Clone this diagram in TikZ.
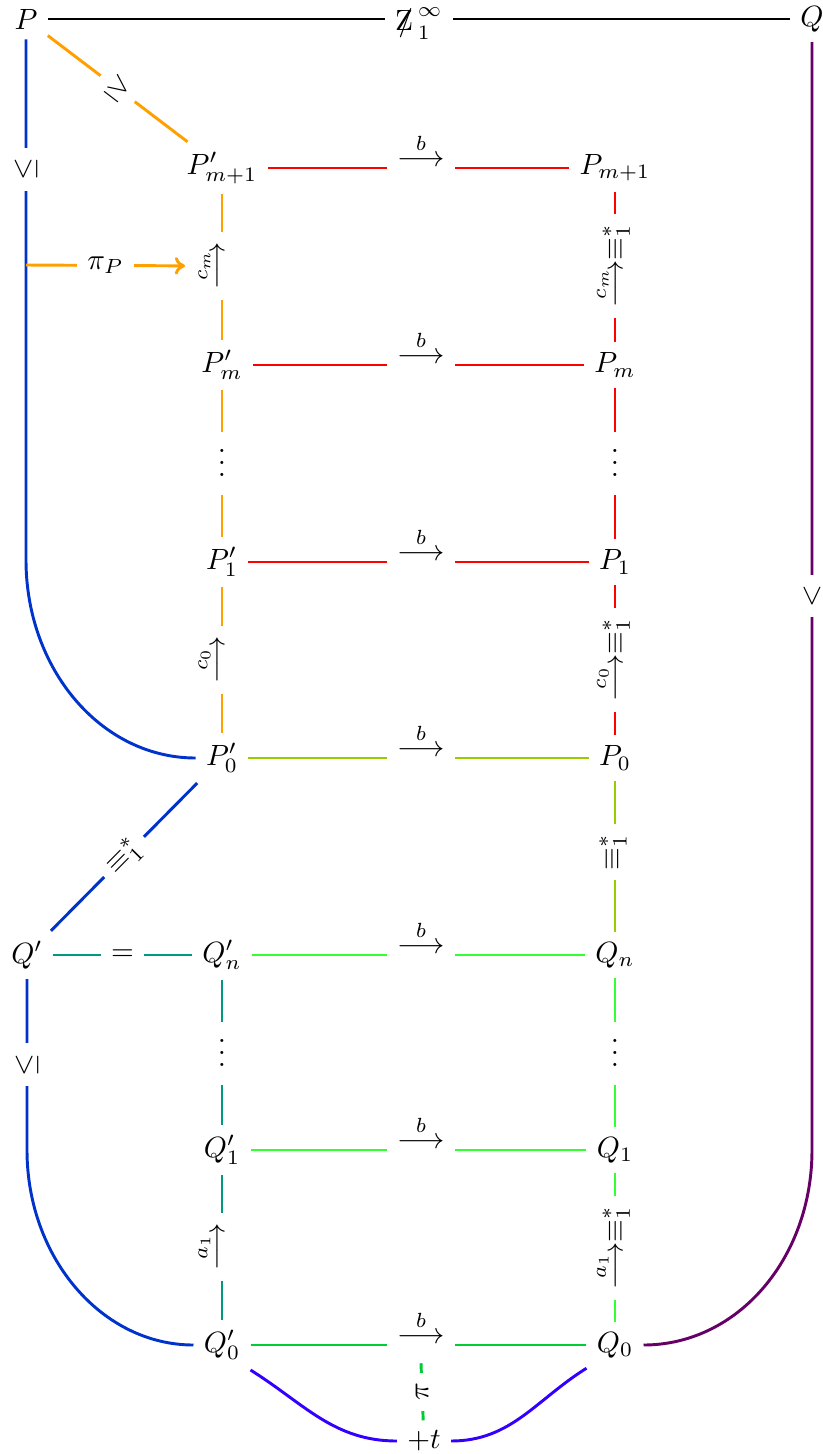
\documentclass[tikz,border=0pt]{standalone}
\usepackage{amsmath,amssymb}
\usetikzlibrary{arrows.meta}
\definecolor{cOrange}{RGB}{255,160,0}
\definecolor{cBlue}{RGB}{0,51,204}
\definecolor{cRed}{RGB}{255,0,0}
\definecolor{cYG}{RGB}{153,204,0}
\definecolor{cLime}{RGB}{51,255,51}
\definecolor{cGreen}{RGB}{0,204,51}
\definecolor{cTeal}{RGB}{0,153,128}
\definecolor{cPurple}{RGB}{102,0,102}
\definecolor{cViolet}{RGB}{51,0,255}
\newcommand{\notZ}{\mathrel{\rlap{$\mkern2mu/$}\mathrm{Z}\mkern3mu}}
\newcommand{\arr}[1]{\overset{#1}{\longrightarrow}}
\begin{document}
\begin{tikzpicture}[x=0.3413pt,y=-0.3413pt,
  ln/.style={line width=1pt},
  lbl/.style={fill=white,text=black,inner sep=3.4pt},
  vd/.style={text height=9.1pt,text depth=0pt,inner sep=6pt}]
\useasboundingbox (0,0) rectangle (822,1454);
% objects
\node (P) at (26,19) {$P$};
\node (Q) at (812,19) {$Q$};
\node (Pm1p) at (222,168) {$P'_{m+1}$};
\node (Pm1) at (615,168) {$P_{m+1}$};
\node (Pmp) at (222,365) {$P'_{m}$};
\node (Pm) at (615,365) {$P_{m}$};
\node[vd] (vdA) at (222,463) {$\vdots$};
\node[vd] (vdB) at (615,463) {$\vdots$};
\node (P1p) at (222,562) {$P'_{1}$};
\node (P1) at (615,562) {$P_{1}$};
\node (P0p) at (222,758) {$P'_{0}$};
\node (P0) at (615,758) {$P_{0}$};
\node (Qp) at (27,955) {$Q'$};
\node (Qnp) at (222,955) {$Q'_{n}$};
\node (Qn) at (615,955) {$Q_{n}$};
\node[vd] (vdC) at (222,1053) {$\vdots$};
\node[vd] (vdD) at (615,1053) {$\vdots$};
\node (Q1p) at (222,1150) {$Q'_{1}$};
\node (Q1) at (615,1150) {$Q_{1}$};
\node (Q0p) at (222,1345) {$Q'_{0}$};
\node (Q0) at (615,1345) {$Q_{0}$};
\node (T) at (424,1441) {$+t$};
\coordinate (pp) at (26,265);
% top and outer connectors
\draw[ln] (P) -- node[lbl,yshift=-1.5pt]{$\notZ^{\infty}_{1}$} (Q);
\draw[ln,cOrange] (P) -- node[lbl,sloped]{$\geq$} (Pm1p);
\draw[ln,cBlue] (P) -- node[lbl,pos=0.25,rotate=90]{$\leq$} (26,560) .. controls (26,669) and (101,758) .. (P0p.west);
\draw[ln,cBlue] (P0p) -- node[lbl,sloped]{$\equiv^{*}_{1}$} (Qp);
\draw[ln,cTeal] (Qp) -- node[lbl]{$=$} (Qnp);
\draw[ln,cBlue] (Qp) -- node[lbl,pos=0.5,rotate=90]{$\leq$} (27,1150) .. controls (27,1258) and (102,1345) .. (Q0p.west);
\draw[ln,cPurple] (Q) -- node[lbl,pos=0.5,rotate=90]{$<$} (812,1150) .. controls (812,1258) and (738,1345) .. (Q0.east);
% horizontal rows
\draw[ln,cRed] (Pm1p) -- (Pm1);
\draw[ln,cRed] (Pmp) -- (Pm);
\draw[ln,cRed] (P1p) -- (P1);
\draw[ln,cYG] (P0p) -- (P0);
\draw[ln,cLime] (Qnp) -- (Qn);
\draw[ln,cLime] (Q1p) -- (Q1);
\draw[ln,cGreen] (Q0p) -- (Q0);
% vertical columns
\draw[ln,cOrange] (Pm1p) -- (Pmp) -- (vdA) -- (P1p) -- (P0p);
\draw[ln,cRed] (Pm1) -- (Pm) -- (vdB) -- (P1) -- (P0);
\draw[ln,cYG] (P0) -- (Qn);
\draw[ln,cLime] (Qn) -- (vdD) -- (Q1) -- (Q0);
\draw[ln,cTeal] (Qnp) -- (vdC) -- (Q1p) -- (Q0p);
% labels on rows
\foreach \y/\nm in {168/bA,365/bB,562/bC,758/bD,955/bE,1150/bF,1345/bG}
  \node[lbl] (\nm) at (421,\y-18) {$\arr{b}$};
% labels on columns
\node[lbl,rotate=90] (cmL) at (210,266) {$\arr{c_m}$};
\node[lbl,rotate=90] (c0L) at (210,660) {$\arr{c_0}$};
\node[lbl,rotate=90] (a1L) at (210,1247) {$\arr{a_1}$};
\node[lbl,rotate=90] (cmR) at (612,266) {$\arr{c_m}\equiv^{*}_{1}$};
\node[lbl,rotate=90] (c0R) at (612,660) {$\arr{c_0}\equiv^{*}_{1}$};
\node[lbl,rotate=90] (eqR) at (613,852) {$\equiv^{*}_{1}$};
\node[lbl,rotate=90] (a1R) at (612,1248) {$\arr{a_1}\equiv^{*}_{1}$};
% extra arrows
\draw[ln,cOrange,-{To[length=3.5pt,width=6pt]}] (pp) -- node[lbl]{$\pi_P$} (cmL);
\draw[ln,cGreen] ([yshift=-3pt]bG.south) -- node[lbl,rotate=90]{$\pi$} (T);
\draw[ln,cViolet] (Q0p.south east) to[out=-32,in=180] (T.west);
\draw[ln,cViolet] (T.east) to[out=0,in=-148] (Q0.south west);
\end{tikzpicture}
\end{document}
